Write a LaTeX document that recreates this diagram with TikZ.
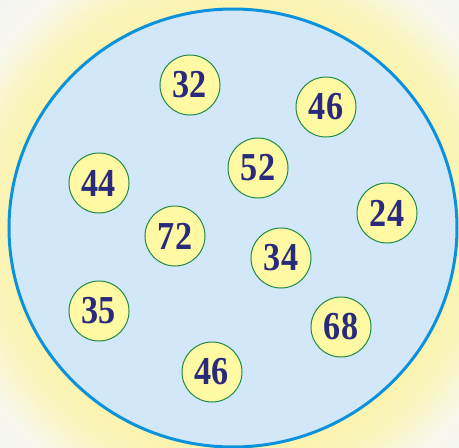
\documentclass[tikz,border=0pt]{standalone}
\usepackage{fontspec}
\setmainfont{Liberation Serif}
\definecolor{glowY}{HTML}{FBF4B0}
\definecolor{glowW}{HTML}{F7F7EC}
\definecolor{bgG}{HTML}{F4F4F4}
\definecolor{setfill}{HTML}{D2E8F8}
\definecolor{setline}{HTML}{0C92DC}
\definecolor{ballfill}{HTML}{FFF9A3}
\definecolor{ballline}{HTML}{1E8A4A}
\definecolor{numcol}{HTML}{2A2A7C}
% TikZ maps the path bbox onto the central 50bp square: radius 330pt <-> 25bp
\pgfdeclareradialshading{glow}{\pgfpoint{0bp}{0bp}}{%
  color(0bp)=(glowY); color(17bp)=(glowY); color(19bp)=(glowY!75!glowW); color(22bp)=(glowW); color(24.5bp)=(bgG); color(50bp)=(bgG)}
\tikzset{
  ball/.style={circle, draw=ballline, line width=1pt, fill=ballfill, minimum size=60pt, inner sep=0pt,
    text=numcol, font=\fontsize{36}{36}\selectfont\bfseries},
}
\newcommand{\num}[1]{\raisebox{-1pt}{\scalebox{0.95}[1.1]{#1}}}
\begin{document}
\begin{tikzpicture}[x=1pt,y=-1pt]
\useasboundingbox (0,0) rectangle (459,448);
\fill[bgG] (0,0) rectangle (459,448);
\clip (0,0) rectangle (459,448);
\shade[shading=glow] (233,229) circle (330);
\filldraw[fill=setfill, draw=setline, line width=3pt] (233,228) ellipse [x radius=224, y radius=219];
\node[ball] (n32) at (190,85) {\num{32}};
\node[ball] (n46a) at (326,107) {\num{46}};
\node[ball] (n52) at (258,168) {\num{52}};
\node[ball] (n44) at (99,183) {\num{44}};
\node[ball] (n24) at (387,213) {\num{24}};
\node[ball] (n72) at (175,236) {\num{72}};
\node[ball] (n34) at (281,258) {\num{34}};
\node[ball] (n35) at (99,311) {\num{35}};
\node[ball] (n68) at (341,327) {\num{68}};
\node[ball] (n46b) at (212,372) {\num{46}};
\end{tikzpicture}
\end{document}
